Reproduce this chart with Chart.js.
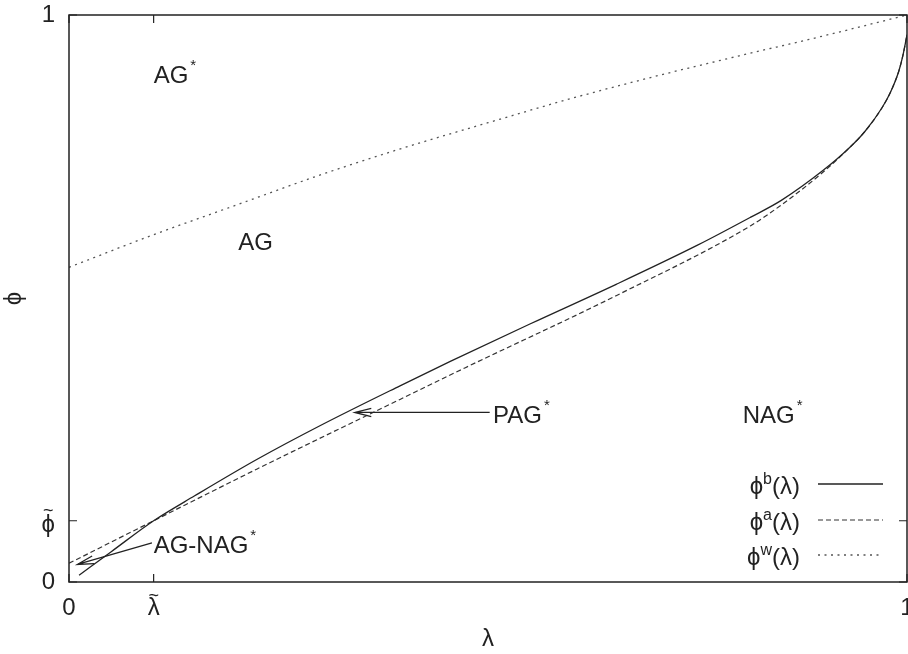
<!DOCTYPE html>
<html>
<head>
<meta charset="utf-8">
<script src="https://cdn.jsdelivr.net/npm/chart.js@4/dist/chart.umd.min.js"></script>
<style>
html, body { margin: 0; padding: 0; background: #fff; }
</style>
</head>
<body>
<canvas id="c" width="908" height="654"></canvas>
<script>
// curve data
var lambdaB = [0.012, 0.05, 0.101, 0.15, 0.224, 0.3, 0.395, 0.455, 0.55, 0.653, 0.75, 0.813, 0.85, 0.9, 0.93, 0.95, 0.97, 0.98, 0.99, 0.995, 1.0];
var phiB    = [0.012, 0.053, 0.108, 0.152, 0.216, 0.276, 0.346, 0.389, 0.455, 0.525, 0.594, 0.643, 0.673, 0.726, 0.764, 0.795, 0.836, 0.863, 0.900, 0.928, 0.965];

var lambdaA = [0, 0.101, 0.224, 0.395, 0.473, 0.653, 0.813, 0.85, 0.9, 0.93, 0.95, 0.97, 0.98, 0.99, 0.995, 1.0];
var phiA    = [0.033, 0.108, 0.199, 0.322, 0.378, 0.505, 0.628, 0.665, 0.723, 0.764, 0.795, 0.836, 0.863, 0.900, 0.928, 0.965];

var lambdaW = [0, 0.1, 0.2, 0.3, 0.4, 0.5, 0.6, 0.7, 0.8, 0.9, 1.0];
var phiW    = [0.555, 0.612, 0.665, 0.718, 0.766, 0.810, 0.853, 0.892, 0.928, 0.963, 1.0];

// special tick values
var lambdaTilde = 0.101;
var phiTilde = 0.108;
var xTickVals = [0, lambdaTilde, 1];
var xTickText = ['0', '\u03BB', '1'];
var xTickTilde = [false, true, false];
var yTickVals = [0, phiTilde, 1];
var yTickText = ['0', '\u03D5', '1'];
var yTickTilde = [false, true, false];

// legend
var seriesSup = ['b', 'a', 'w'];

// region labels (lambda, phi of the text baseline start)
var labelText = ['AG', 'AG', 'PAG', 'NAG', 'AG-NAG'];
var labelStar = [true, false, true, true, true];
var labelLam  = [0.101, 0.202, 0.506, 0.804, 0.101];
var labelPhi  = [0.880, 0.586, 0.281, 0.280, 0.051];

// arrows: from -> to (tip)
var arrowFrom = [[0.502, 0.299], [0.099, 0.069]];
var arrowTo   = [[0.341, 0.299], [0.010, 0.031]];

var FONT = '"Liberation Sans", Arial, Helvetica, sans-serif';
var INK = '#222';
var FS = 24;

function pts(xs, ys) {
  var out = [];
  for (var i = 0; i < xs.length; i++) out.push({x: xs[i], y: ys[i]});
  return out;
}

var gnuplotPlugin = {
  id: 'gnuplotBits',
  afterDraw: function (chart) {
    var c = chart.ctx;
    var a = chart.chartArea;
    var xs = chart.scales.x, ys = chart.scales.y;
    c.save();

    // frame
    c.strokeStyle = INK;
    c.lineWidth = 1.5;
    c.strokeRect(a.left, a.top, a.right - a.left, a.bottom - a.top);

    // inward ticks, mirrored
    c.lineWidth = 1.2;
    c.beginPath();
    xTickVals.forEach(function (v) {
      var px = xs.getPixelForValue(v);
      c.moveTo(px, a.bottom); c.lineTo(px, a.bottom - 8);
      c.moveTo(px, a.top); c.lineTo(px, a.top + 8);
    });
    yTickVals.forEach(function (v) {
      var py = ys.getPixelForValue(v);
      c.moveTo(a.left, py); c.lineTo(a.left + 8, py);
      c.moveTo(a.right, py); c.lineTo(a.right - 8, py);
    });
    c.stroke();

    // tick labels
    c.fillStyle = INK;
    c.textAlign = 'center';
    c.textBaseline = 'middle';
    xTickVals.forEach(function (v, i) {
      var px = xs.getPixelForValue(v);
      c.font = FS + 'px ' + FONT;
      c.fillText(xTickText[i], px, a.bottom + 26);
      if (xTickTilde[i]) {
        c.font = '18px ' + FONT;
        c.fillText('~', px, a.bottom + 14);
      }
    });
    c.textAlign = 'right';
    yTickVals.forEach(function (v, i) {
      var py = ys.getPixelForValue(v);
      c.font = FS + 'px ' + FONT;
      var t = yTickText[i];
      var dy = yTickTilde[i] ? 5 : 0;
      c.fillText(t, a.left - 14, py + dy);
      if (yTickTilde[i]) {
        var w = c.measureText(t).width;
        c.font = '18px ' + FONT;
        c.textAlign = 'center';
        c.fillText('~', a.left - 14 - w / 2, py - 10);
        c.textAlign = 'right';
      }
    });

    // region labels
    c.textAlign = 'left';
    c.textBaseline = 'alphabetic';
    labelText.forEach(function (t, i) {
      var px = xs.getPixelForValue(labelLam[i]);
      var py = ys.getPixelForValue(labelPhi[i]);
      c.font = FS + 'px ' + FONT;
      c.fillText(t, px, py);
      if (labelStar[i]) {
        var w = c.measureText(t).width;
        c.font = '15px ' + FONT;
        c.fillText('*', px + w + 2, py - 13);
      }
    });

    // arrows
    c.strokeStyle = INK;
    c.lineWidth = 1.3;
    arrowFrom.forEach(function (f, i) {
      var x1 = xs.getPixelForValue(f[0]), y1 = ys.getPixelForValue(f[1]);
      var x2 = xs.getPixelForValue(arrowTo[i][0]), y2 = ys.getPixelForValue(arrowTo[i][1]);
      var ang = Math.atan2(y2 - y1, x2 - x1);
      var L = 17, h = 0.24;
      c.beginPath();
      c.moveTo(x1, y1); c.lineTo(x2, y2);
      c.moveTo(x2 - L * Math.cos(ang - h), y2 - L * Math.sin(ang - h));
      c.lineTo(x2, y2);
      c.lineTo(x2 - L * Math.cos(ang + h), y2 - L * Math.sin(ang + h));
      c.stroke();
    });

    // legend, bottom right inside the frame
    var rows = [a.bottom - 97, a.bottom - 61, a.bottom - 26];
    var textRight = a.right - 107;
    chart.data.datasets.forEach(function (ds, i) {
      var y = rows[i];
      c.font = FS + 'px ' + FONT;
      var w1 = c.measureText('\u03D5').width;
      var w3 = c.measureText('(\u03BB)').width;
      c.font = '16px ' + FONT;
      var w2 = c.measureText(seriesSup[i]).width;
      var x0 = textRight - (w1 + w2 + w3);
      c.fillStyle = INK;
      c.font = FS + 'px ' + FONT;
      c.fillText('\u03D5', x0, y + 9);
      c.font = '16px ' + FONT;
      c.fillText(seriesSup[i], x0 + w1, y - 1);
      c.font = FS + 'px ' + FONT;
      c.fillText('(\u03BB)', x0 + w1 + w2, y + 9);
      c.strokeStyle = ds.borderColor;
      c.lineWidth = ds.borderWidth;
      c.setLineDash(ds.borderDash || []);
      c.beginPath();
      c.moveTo(a.right - 89, y - 1);
      c.lineTo(a.right - 24, y - 1);
      c.stroke();
      c.setLineDash([]);
    });

    c.restore();
  }
};

var ctx = document.getElementById('c').getContext('2d');
var myChart = new Chart(ctx, {
  type: 'line',
  data: {
    datasets: [{
      label: 'phi_b',
      data: pts(lambdaB, phiB),
      borderColor: '#222',
      borderWidth: 1.3,
      pointRadius: 0,
      cubicInterpolationMode: 'monotone'
    }, {
      label: 'phi_a',
      data: pts(lambdaA, phiA),
      borderColor: '#333',
      borderWidth: 1.2,
      borderDash: [5, 3],
      pointRadius: 0,
      cubicInterpolationMode: 'monotone'
    }, {
      label: 'phi_w',
      data: pts(lambdaW, phiW),
      borderColor: '#555',
      borderWidth: 1.3,
      borderDash: [2, 4.5],
      pointRadius: 0,
      cubicInterpolationMode: 'monotone'
    }]
  },
  options: {
    responsive: false,
    animation: false,
    layout: { padding: { top: 15, right: 1, left: 0, bottom: 0 } },
    plugins: {
      legend: { display: false },
      tooltip: { enabled: false }
    },
    scales: {
      x: {
        type: 'linear', min: 0, max: 1,
        grid: { display: false }, border: { display: false },
        ticks: { display: false },
        title: { display: true, text: '\u03BB', color: INK, font: { family: FONT, size: FS }, padding: 0 },
        afterFit: function (s) { s.height = 72; }
      },
      y: {
        type: 'linear', min: 0, max: 1,
        grid: { display: false }, border: { display: false },
        ticks: { display: false },
        title: { display: true, text: '\u03D5', color: INK, font: { family: FONT, size: FS }, padding: 0 },
        afterFit: function (s) { s.width = 69; }
      }
    }
  },
  plugins: [gnuplotPlugin]
});
</script>
</body>
</html>
